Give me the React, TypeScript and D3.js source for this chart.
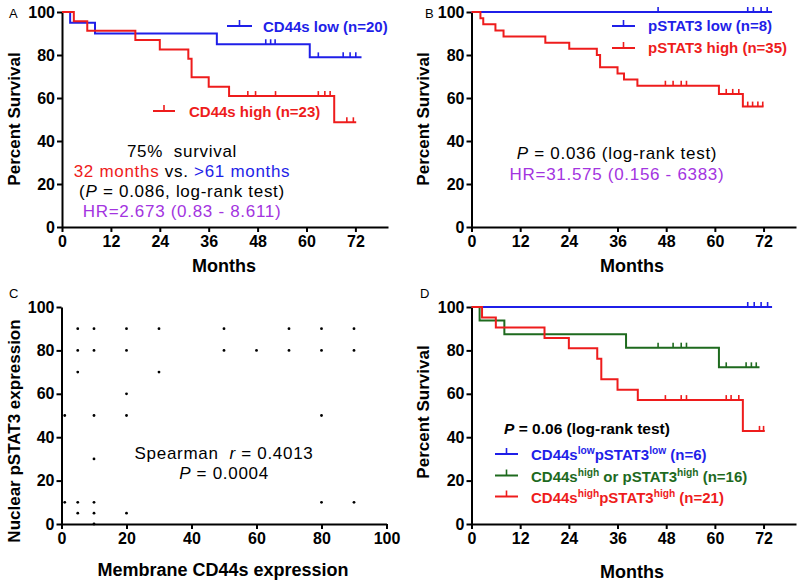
import { useEffect, useRef } from 'react';
import * as d3 from 'd3';

const FONT = '"Liberation Sans", Arial, sans-serif';
const BLUE = '#1f1fe8';
const RED = '#ee1c1c';
const GREEN = '#1e6a1e';
const PURPLE = '#a334e0';

const monthTicks = [0, 12, 24, 36, 48, 60, 72];
const survTicks = [0, 20, 40, 60, 80, 100];
const exprTicks = [0, 20, 40, 60, 80, 100];

// Panel A - CD44s
const aLowTimes = [2, 8.1, 38, 60.8];
const aLowSurv = [95, 90, 85, 78.9];
const aLowCensor = [50, 51.2, 52.3, 62.9, 69, 70.7, 72.1];
const aLowEnd = 73.5;
const aHighTimes = [2.9, 6.2, 18, 24, 31, 31.8, 36, 41, 66.8];
const aHighSurv = [95.7, 91.3, 87, 82.6, 78.3, 69.6, 65.2, 60.9, 48.7];
const aHighCensor = [45.6, 47.5, 52.4, 62.9, 64.5, 65.8, 69.9, 71.5];
const aHighEnd = 72.2;

// Panel B - pSTAT3
const bLowTimes: number[] = [];
const bLowSurv: number[] = [];
const bLowCensor = [46, 68.1, 69.5, 71.4, 72.9];
const bLowEnd = 74.1;
const bHighTimes = [2.2, 2.9, 5.9, 7.9, 18.2, 24.1, 30.9, 31.7, 36, 37.6, 40.9, 61, 66.9];
const bHighSurv = [97.1, 94.3, 91.4, 88.6, 85.7, 82.9, 80, 74.3, 71.4, 68.6, 65.7, 61.9, 56];
const bHighCensor = [47.8, 49.7, 51.7, 53, 62.8, 64.4, 65.9, 68.1, 69.3, 70.6, 71.8];
const bHighEnd = 72;

// Panel C - scatter
const cd44Expr = [5, 10, 20, 30, 50, 70, 80, 90, 5, 10, 20, 50, 60, 70, 80, 90, 5, 30, 20, 1, 10, 20, 80, 10, 1, 5, 10, 80, 90, 5, 10, 20, 10];
const pstat3Expr = [90, 90, 90, 90, 90, 90, 90, 90, 80, 80, 80, 80, 80, 80, 80, 80, 70, 70, 60, 50, 50, 50, 50, 30, 10, 10, 10, 10, 10, 5, 5, 5, 0];

// Panel D - combined
const dLowTimes: number[] = [];
const dLowSurv: number[] = [];
const dLowCensor = [68.1, 69.7, 71.4, 73];
const dLowEnd = 74.1;
const dMixTimes = [2, 8.1, 38.1, 61];
const dMixSurv = [93.75, 87.5, 81.25, 72.2];
const dMixCensor = [46, 49.7, 51.7, 53, 62.8, 67.7, 69, 70.2];
const dMixEnd = 71;
const dHighTimes = [2.6, 6, 18, 24, 31, 32, 36, 41, 66.9];
const dHighSurv = [95.2, 90.5, 85.7, 81, 76.2, 66.7, 61.9, 57.1, 42.9];
const dHighCensor = [47.8, 51.7, 53, 62.8, 64, 65.9, 71, 72];
const dHighEnd = 72.3;

type Sel = d3.Selection<SVGGElement, unknown, null, undefined>;
type Part = { t: string; c?: string; i?: boolean; sup?: boolean };

const survAt = (times: number[], surv: number[], t: number) => {
  let s = 100;
  times.forEach((ti, i) => { if (ti <= t) s = surv[i]; });
  return s;
};

function drawAxes(g: Sel, x: d3.ScaleLinear<number, number>, y: d3.ScaleLinear<number, number>, xTicks: number[], yTicks: number[]) {
  const y0 = y.range()[0];
  const x0 = x.range()[0];
  const xa = g.append('g')
    .attr('transform', `translate(0,${y0})`)
    .call(d3.axisBottom(x).tickValues(xTicks).tickSize(5).tickSizeOuter(0).tickPadding(4));
  const ya = g.append('g')
    .attr('transform', `translate(${x0},0)`)
    .call(d3.axisLeft(y).tickValues(yTicks).tickSize(5).tickSizeOuter(0).tickPadding(2));
  [xa, ya].forEach(a => {
    a.attr('font-family', FONT);
    a.select('.domain').attr('stroke', '#000').attr('stroke-width', 2);
    a.selectAll('line').attr('stroke', '#000').attr('stroke-width', 2);
    a.selectAll('text').attr('fill', '#000').attr('font-size', 16).attr('font-weight', 'bold');
  });
}

function drawKM(g: Sel, x: d3.ScaleLinear<number, number>, y: d3.ScaleLinear<number, number>,
  times: number[], surv: number[], end: number, censor: number[], color: string) {
  const last = surv.length ? surv[surv.length - 1] : 100;
  const pts: [number, number][] = [[0, 100], ...times.map((t, i) => [t, surv[i]] as [number, number]), [end, last]];
  const line = d3.line<[number, number]>().x(d => x(d[0])).y(d => y(d[1])).curve(d3.curveStepAfter);
  g.append('path').attr('d', line(pts)).attr('fill', 'none').attr('stroke', color).attr('stroke-width', 2);
  g.selectAll(null).data(censor).enter().append('line')
    .attr('x1', d => x(d)).attr('x2', d => x(d))
    .attr('y1', d => y(survAt(times, surv, d)))
    .attr('y2', d => y(survAt(times, surv, d)) - 5)
    .attr('stroke', color).attr('stroke-width', 1.6);
}

function legendMark(g: Sel, x1: number, x2: number, y: number, color: string) {
  g.append('line').attr('x1', x1).attr('x2', x2).attr('y1', y).attr('y2', y)
    .attr('stroke', color).attr('stroke-width', 2);
  const xm = (x1 + x2) / 2;
  g.append('line').attr('x1', xm).attr('x2', xm).attr('y1', y).attr('y2', y - 6)
    .attr('stroke', color).attr('stroke-width', 1.6);
}

function richText(g: Sel, x: number, y: number, parts: Part[], size: number,
  weight = 'normal', anchor = 'middle', spacing = 0) {
  const txt = g.append('text').attr('x', x).attr('y', y)
    .attr('text-anchor', anchor).attr('font-family', FONT)
    .attr('font-size', size).attr('font-weight', weight)
    .attr('letter-spacing', spacing)
    .style('white-space', 'pre');
  let raised = false;
  parts.forEach(p => {
    const ts = txt.append('tspan').text(p.t).attr('fill', p.c ?? '#000');
    if (p.i) ts.attr('font-style', 'italic');
    if (p.sup) {
      ts.attr('font-size', size * 0.68);
      if (!raised) ts.attr('dy', -6);
      raised = true;
    } else if (raised) {
      ts.attr('dy', 6);
      raised = false;
    }
  });
}

function label(g: Sel, x: number, y: number, t: string, size: number, weight = 'normal', rotate = false, anchor = 'middle') {
  g.append('text')
    .attr('transform', rotate ? `translate(${x},${y}) rotate(-90)` : `translate(${x},${y})`)
    .attr('text-anchor', anchor).attr('font-family', FONT)
    .attr('font-size', size).attr('font-weight', weight).attr('fill', '#000')
    .text(t);
}

const App = () => {
  const svgRef = useRef<SVGSVGElement>(null);

  useEffect(() => {
    const svg = d3.select(svgRef.current);
    svg.selectAll('*').remove();
    const g = svg.append('g') as unknown as Sel;

    const xA = d3.scaleLinear().domain([0, 80]).range([62, 388]);
    const yA = d3.scaleLinear().domain([0, 100]).range([227, 12]);
    const xB = d3.scaleLinear().domain([0, 80]).range([471.5, 796]);
    const yB = d3.scaleLinear().domain([0, 100]).range([227, 12]);
    const xC = d3.scaleLinear().domain([0, 100]).range([61.5, 386.5]);
    const yC = d3.scaleLinear().domain([0, 100]).range([524, 307]);
    const xD = d3.scaleLinear().domain([0, 80]).range([471.5, 796]);
    const yD = d3.scaleLinear().domain([0, 100]).range([524, 307]);

    // Panel A
    label(g, 9, 18, 'A', 13, 'normal', false, 'start');
    drawAxes(g, xA, yA, monthTicks, survTicks);
    drawKM(g, xA, yA, aLowTimes, aLowSurv, aLowEnd, aLowCensor, BLUE);
    drawKM(g, xA, yA, aHighTimes, aHighSurv, aHighEnd, aHighCensor, RED);
    legendMark(g, 227, 252, 26, BLUE);
    richText(g, 263, 31.5, [{ t: 'CD44s low (n=20)', c: BLUE }], 15, 'bold', 'start');
    legendMark(g, 153, 175, 111, RED);
    richText(g, 189, 116.5, [{ t: 'CD44s high (n=23)', c: RED }], 15, 'bold', 'start');
    richText(g, 182, 157, [{ t: '75%  survival' }], 17, 'normal', 'middle', 0.7);
    richText(g, 182, 177, [{ t: '32 months', c: RED }, { t: ' vs. ' }, { t: '>61 months', c: BLUE }], 17, 'normal', 'middle', 0.7);
    richText(g, 182, 197, [{ t: '(' }, { t: 'P', i: true }, { t: ' = 0.086, log-rank test)' }], 17, 'normal', 'middle', 0.7);
    richText(g, 182, 217, [{ t: 'HR=2.673 (0.83 - 8.611)', c: PURPLE }], 17, 'normal', 'middle', 0.7);
    label(g, 20, 119, 'Percent Survival', 17, 'bold', true);
    label(g, 224, 272, 'Months', 18, 'bold');

    // Panel B
    label(g, 425, 18, 'B', 13, 'normal', false, 'start');
    drawAxes(g, xB, yB, monthTicks, survTicks);
    drawKM(g, xB, yB, bLowTimes, bLowSurv, bLowEnd, bLowCensor, BLUE);
    drawKM(g, xB, yB, bHighTimes, bHighSurv, bHighEnd, bHighCensor, RED);
    legendMark(g, 612, 635, 26, BLUE);
    richText(g, 648, 31, [{ t: 'pSTAT3 low (n=8)', c: BLUE }], 15, 'bold', 'start');
    legendMark(g, 612, 635, 48, RED);
    richText(g, 648, 53, [{ t: 'pSTAT3 high (n=35)', c: RED }], 15, 'bold', 'start');
    richText(g, 617, 159, [{ t: 'P', i: true }, { t: ' = 0.036 (log-rank test)' }], 17, 'normal', 'middle', 0.7);
    richText(g, 617, 180, [{ t: 'HR=31.575 (0.156 - 6383)', c: PURPLE }], 17, 'normal', 'middle', 0.7);
    label(g, 429, 119, 'Percent Survival', 17, 'bold', true);
    label(g, 632, 272, 'Months', 18, 'bold');

    // Panel C
    label(g, 9, 298, 'C', 13, 'normal', false, 'start');
    drawAxes(g, xC, yC, exprTicks, exprTicks);
    g.selectAll(null).data(cd44Expr).enter().append('circle')
      .attr('cx', (d: number) => xC(d))
      .attr('cy', (_: number, i: number) => yC(pstat3Expr[i]))
      .attr('r', 1.4)
      .attr('fill', '#000');
    richText(g, 224, 459, [{ t: 'Spearman  ' }, { t: 'r', i: true }, { t: ' = 0.4013' }], 17, 'normal', 'middle', 0.7);
    richText(g, 224, 479, [{ t: 'P', i: true }, { t: ' = 0.0004' }], 17, 'normal', 'middle', 0.7);
    label(g, 20, 431, 'Nuclear pSTAT3 expression', 17, 'bold', true);
    label(g, 223, 576, 'Membrane CD44s expression', 18, 'bold');

    // Panel D
    label(g, 420, 298, 'D', 13, 'normal', false, 'start');
    drawAxes(g, xD, yD, monthTicks, survTicks);
    drawKM(g, xD, yD, dLowTimes, dLowSurv, dLowEnd, dLowCensor, BLUE);
    drawKM(g, xD, yD, dMixTimes, dMixSurv, dMixEnd, dMixCensor, GREEN);
    drawKM(g, xD, yD, dHighTimes, dHighSurv, dHighEnd, dHighCensor, RED);
    richText(g, 587, 434, [{ t: 'P', i: true }, { t: ' = 0.06 (log-rank test)' }], 15.5, 'bold');
    legendMark(g, 495, 518, 454, BLUE);
    richText(g, 531, 460, [{ t: 'CD44s', c: BLUE }, { t: 'low', c: BLUE, sup: true }, { t: 'pSTAT3', c: BLUE }, { t: 'low', c: BLUE, sup: true }, { t: ' (n=6)', c: BLUE }], 15, 'bold', 'start');
    legendMark(g, 495, 518, 475.5, GREEN);
    richText(g, 531, 481.5, [{ t: 'CD44s', c: GREEN }, { t: 'high', c: GREEN, sup: true }, { t: ' or pSTAT3', c: GREEN }, { t: 'high', c: GREEN, sup: true }, { t: ' (n=16)', c: GREEN }], 15, 'bold', 'start');
    legendMark(g, 495, 518, 496.5, RED);
    richText(g, 531, 502.5, [{ t: 'CD44s', c: RED }, { t: 'high', c: RED, sup: true }, { t: 'pSTAT3', c: RED }, { t: 'high', c: RED, sup: true }, { t: ' (n=21)', c: RED }], 15, 'bold', 'start');
    label(g, 429, 412, 'Percent Survival', 17, 'bold', true);
    label(g, 632, 578, 'Months', 18, 'bold');
  }, []);

  return (
    <svg ref={svgRef} width={800} height={583}
      style={{ position: 'absolute', left: 0, top: 0, background: '#fff' }} />
  );
};

export default App;
